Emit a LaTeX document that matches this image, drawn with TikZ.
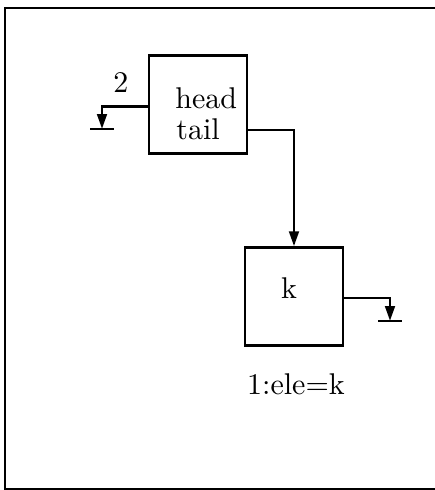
\documentclass[tikz,border=0pt]{standalone}
\usepackage{amsmath}
\usepackage{tikz}
\usetikzlibrary{arrows.meta}

\begin{document}
\begin{tikzpicture}[x=0.3333pt,y=-0.3333pt,line width=0.95pt,
                    >={Triangle[width=3.2pt,length=5pt]},
                    cell/.style={draw, minimum width=32.7pt, minimum height=32.5pt, inner sep=0pt}]
                        \useasboundingbox (0,0) rectangle (435,490);
                        % Frame
                        \draw (435,8) -- (5,8) -- (5,489) -- (435,489);

                        % Nodes
                        \node[cell] (list) at (198,104.5) {};
                        \node[cell] (ele) at (294,296.5) {};
                        \node[anchor=base west, inner sep=0pt] (head) at (174,108) {head};
                        \node[anchor=base west, inner sep=0pt] (tail) at (175,139) {tail};
                        \node[anchor=base, inner sep=0pt] (len) at (121,92) {2};
                        \node[anchor=base, inner sep=0pt] (key) at (289,298) {k};
                        \node[anchor=base, inner sep=0pt] (name) at (296,394) {1:ele=k};
                        \coordinate (nil1) at (102,129);
                        \coordinate (nil2) at (390,321);

                        % Edges
                        \draw[->] ([yshift=-0.8pt]list.west) -| (nil1);
                        \draw[->] ([yshift=-8.5pt]list.east) -| (ele.north);
                        \draw[->] ([yshift=-0.5pt]ele.east) -| (nil2);

                        % Ground bars
                        \draw ([xshift=-3.9pt]nil1) -- ([xshift=3.9pt]nil1);
                        \draw ([xshift=-3.9pt]nil2) -- ([xshift=3.9pt]nil2);
                    \end{tikzpicture}
\end{document}
